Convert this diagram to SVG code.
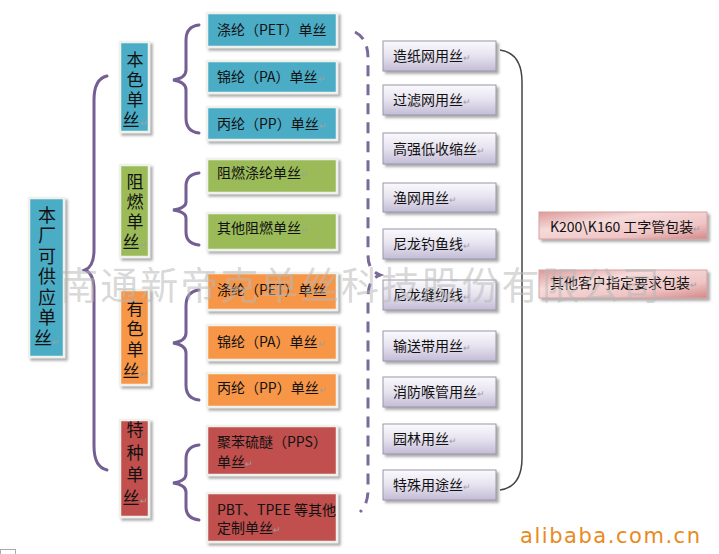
<svg xmlns="http://www.w3.org/2000/svg" width="719" height="554" viewBox="0 0 719 554">
<defs>
<filter id="sh" x="-20%" y="-20%" width="140%" height="140%">
<feDropShadow dx="2.5" dy="2.5" stdDeviation="1.2" flood-color="#6a6a6a" flood-opacity="0.55"/>
</filter>
<linearGradient id="lav" x1="0" y1="0" x2="0" y2="1">
<stop offset="0" stop-color="#fbfafd"/>
<stop offset="0.5" stop-color="#e6e2ef"/>
<stop offset="1" stop-color="#c3bcd6"/>
</linearGradient>
<linearGradient id="pink" x1="0" y1="0" x2="1" y2="1">
<stop offset="0" stop-color="#dc9a9a"/>
<stop offset="0.35" stop-color="#f6dada"/>
<stop offset="0.7" stop-color="#efc5c5"/>
<stop offset="1" stop-color="#d48888"/>
</linearGradient>
</defs>
<style>
text{font-family:"Noto Sans CJK SC","Noto Sans",sans-serif;fill:#111;}
.t{font-size:14px;}
.c{font-size:17px;text-anchor:middle;}
.m{font-size:18px;text-anchor:middle;}
.rt{font-size:9px;fill:#a0a0a0;}
.box{stroke:#eef1ec;stroke-width:2.5;filter:url(#sh);}
.blue{fill:#4bacc6;}
.green{fill:#9bbb59;}
.orange{fill:#f79646;}
.red{fill:#c0504d;}
.lv{fill:url(#lav);stroke:#9a96a8;stroke-width:1;filter:url(#sh);}
.pk{fill:url(#pink);stroke:#d7a0a0;stroke-width:1;filter:url(#sh);}
.brace{fill:none;stroke:#735f93;stroke-width:3;stroke-linecap:round;}
.dash{fill:none;stroke:#7a6a98;stroke-width:3;stroke-dasharray:11 8;}
.thin{fill:none;stroke:#444;stroke-width:1.5;}
</style>

<g id="connectors">
<path class="brace" d="M107,76 C98,78 94,86 94,100 L94,250 C94,262 90,268 85,270 C90,272 94,278 94,290 L94,446 C94,460 98,468 107,470"/>
<path class="brace" d="M199,25 C190,26 186,32 186,40 L186,70 C186,76 180,79 173,80 C180,81 186,84 186,90 L186,118 C186,127 190,132 199,133"/>
<path class="brace" d="M199,173 C190,174 186,179 186,186 L186,202 C186,207 180,209 173,210 C180,211 186,213 186,218 L186,232 C186,240 190,244 199,245"/>
<path class="brace" d="M199,290 C190,291 186,297 186,306 L186,333 C186,339 180,342 173,343 C180,344 186,347 186,353 L186,385 C186,394 190,399 199,400"/>
<path class="brace" d="M199,445 C190,446 186,451 186,459 L186,474 C186,479 180,482 173,483 C180,484 186,487 186,492 L186,507 C186,515 190,519 199,520"/>
<path class="dash" d="M355,32 C363,36 368,44 368,58 L368,255 C368,266 372,272 380,275 C372,278 368,284 368,298 L368,490 C368,500 365,507 360,512"/>
<path class="thin" d="M500,50 C514,52 522,62 522,82 L522,458 C522,478 514,488 500,490"/>
</g>

<g id="main">
<rect class="box blue" x="29" y="198" width="35" height="159"/>
<text class="m" x="47" y="221.5">本<tspan x="47" dy="20.5">厂</tspan><tspan x="47" dy="20.5">可</tspan><tspan x="47" dy="20.5">供</tspan><tspan x="47" dy="20.5">应</tspan><tspan x="47" dy="20.5">单</tspan><tspan x="47" dy="20.5">丝</tspan><tspan class="rt">↵</tspan></text>
</g>

<g id="cat-bense">
<rect class="box blue" x="120" y="42" width="29" height="90"/>
<text class="c" x="135" y="65.5">本<tspan x="135" dy="20.3">色</tspan><tspan x="135" dy="20.3">单</tspan><tspan x="135" dy="20.3">丝</tspan><tspan class="rt">↵</tspan></text>
</g>
<g id="cat-zuran">
<rect class="box green" x="120" y="165" width="29" height="92"/>
<text class="c" x="135" y="188">阻<tspan x="135" dy="20">燃</tspan><tspan x="135" dy="20">单</tspan><tspan x="135" dy="20">丝</tspan><tspan class="rt">↵</tspan></text>
</g>
<g id="cat-youse">
<rect class="box orange" x="120" y="290" width="29" height="95"/>
<text class="c" x="135" y="314.5">有<tspan x="135" dy="20.7">色</tspan><tspan x="135" dy="20.7">单</tspan><tspan x="135" dy="20.7">丝</tspan><tspan class="rt">↵</tspan></text>
</g>
<g id="cat-tezhong">
<rect class="box red" x="120" y="420" width="29" height="97"/>
<text class="c" x="135" y="436">特<tspan x="135" dy="22.7">种</tspan><tspan x="135" dy="22.7">单</tspan><tspan x="135" dy="22.7">丝</tspan><tspan class="rt">↵</tspan></text>
</g>

<g id="b-pet">
<rect class="box blue" x="207" y="13" width="130" height="34"/>
<text class="t" x="217" y="35">涤纶（PET）单丝</text>
</g>
<g id="b-pa">
<rect class="box blue" x="207" y="61" width="130" height="32"/>
<text class="t" x="217" y="82">锦纶（PA）单丝<tspan class="rt">↵</tspan></text>
</g>
<g id="b-pp">
<rect class="box blue" x="207" y="107" width="130" height="33"/>
<text class="t" x="217" y="128.5">丙纶（PP）单丝<tspan class="rt">↵</tspan></text>
</g>
<g id="g-zr1">
<rect class="box green" x="207" y="159" width="130" height="34"/>
<text class="t" x="217" y="178">阻燃涤纶单丝<tspan class="rt">↵</tspan></text>
</g>
<g id="g-zr2">
<rect class="box green" x="207" y="213" width="130" height="37"/>
<text class="t" x="217" y="233">其他阻燃单丝<tspan class="rt">↵</tspan></text>
</g>
<g id="o-pet">
<rect class="box orange" x="207" y="273" width="130" height="37"/>
<text class="t" x="217" y="295">涤纶（PET）单丝</text>
</g>
<g id="o-pa">
<rect class="box orange" x="207" y="325" width="130" height="35"/>
<text class="t" x="217" y="347">锦纶（PA）单丝<tspan class="rt">↵</tspan></text>
</g>
<g id="o-pp">
<rect class="box orange" x="207" y="373" width="130" height="34"/>
<text class="t" x="217" y="393">丙纶（PP）单丝<tspan class="rt">↵</tspan></text>
</g>
<g id="r-pps">
<rect class="box red" x="207" y="426" width="130" height="49"/>
<text class="t" x="217" y="447">聚苯硫醚（PPS）</text>
<text class="t" x="217" y="467">单丝<tspan class="rt">↵</tspan></text>
</g>
<g id="r-pbt">
<rect class="box red" x="207" y="493" width="130" height="49"/>
<text class="t" x="217" y="515">PBT、TPEE 等其他</text>
<text class="t" x="217" y="533">定制单丝<tspan class="rt">↵</tspan></text>
</g>

<g id="u1"><rect class="lv" x="383" y="41" width="113" height="30"/><text class="t" x="393" y="61">造纸网用丝<tspan class="rt">↵</tspan></text></g>
<g id="u2"><rect class="lv" x="383" y="85" width="113" height="30"/><text class="t" x="393" y="105">过滤网用丝<tspan class="rt">↵</tspan></text></g>
<g id="u3"><rect class="lv" x="383" y="133" width="113" height="31"/><text class="t" x="393" y="153.5">高强低收缩丝<tspan class="rt">↵</tspan></text></g>
<g id="u4"><rect class="lv" x="383" y="183" width="113" height="29"/><text class="t" x="393" y="202.5">渔网用丝<tspan class="rt">↵</tspan></text></g>
<g id="u5"><rect class="lv" x="383" y="229" width="113" height="30"/><text class="t" x="393" y="249">尼龙钓鱼线<tspan class="rt">↵</tspan></text></g>
<g id="u6"><rect class="lv" x="383" y="280" width="113" height="30"/><text class="t" x="393" y="300">尼龙缝纫线<tspan class="rt">↵</tspan></text></g>
<g id="u7"><rect class="lv" x="383" y="331" width="113" height="30"/><text class="t" x="393" y="351">输送带用丝<tspan class="rt">↵</tspan></text></g>
<g id="u8"><rect class="lv" x="383" y="377" width="113" height="30"/><text class="t" x="393" y="397">消防喉管用丝<tspan class="rt">↵</tspan></text></g>
<g id="u9"><rect class="lv" x="383" y="424" width="113" height="30"/><text class="t" x="393" y="444">园林用丝<tspan class="rt">↵</tspan></text></g>
<g id="u10"><rect class="lv" x="383" y="470" width="113" height="30"/><text class="t" x="393" y="490">特殊用途丝<tspan class="rt">↵</tspan></text></g>

<g id="p1"><rect class="pk" x="539" y="212" width="168" height="27"/><text class="t" x="550" y="231.5">K200\K160 工字管包装<tspan class="rt">↵</tspan></text></g>
<g id="p2"><rect class="pk" x="539" y="270" width="168" height="28"/><text class="t" x="550" y="288">其他客户指定要求包装<tspan class="rt">↵</tspan></text></g>

<text x="60" y="299" font-size="38" textLength="600" style="fill:#b8b8b8;fill-opacity:0.55;">南通新帝克单丝科技股份有限公司</text>
<text x="520" y="543" textLength="180" style="font-family:'DejaVu Sans',sans-serif;font-size:21px;fill:#e88a22;">alibaba.com.cn</text>
<rect x="0.5" y="549.5" width="15" height="6" fill="none" stroke="#aaa" stroke-width="1"/>
</svg>
